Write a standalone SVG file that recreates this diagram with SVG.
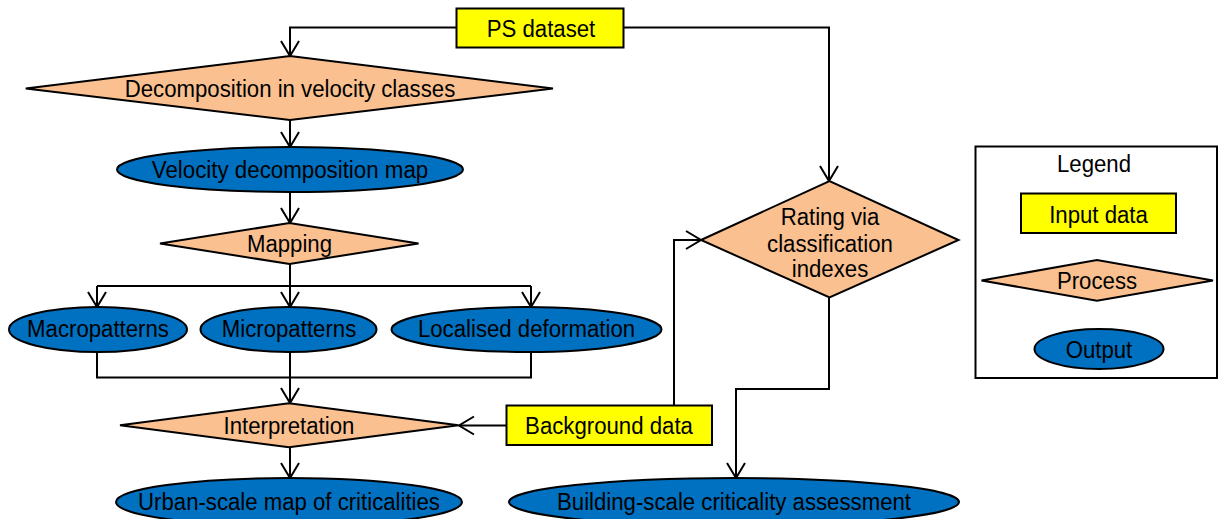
<svg xmlns="http://www.w3.org/2000/svg" width="1218" height="519" viewBox="0 0 1218 519">
<style>
text{font-family:"Liberation Sans",Arial,sans-serif;font-size:23.5px;fill:#000;text-anchor:middle}
.inp{fill:#FFFF00;stroke:#000;stroke-width:2}
.proc{fill:#FAC090;stroke:#000;stroke-width:2}
.out{fill:#0070C0;stroke:#000;stroke-width:2}
.con{fill:none;stroke:#000;stroke-width:2}
.arr{marker-end:url(#arr)}
</style>
<defs>
<marker id="arr" viewBox="-18 -11 20 22" refX="0" refY="0" markerWidth="20" markerHeight="22" markerUnits="userSpaceOnUse" orient="auto">
<path d="M-15,-9 L0,0 L-15,9" fill="none" stroke="#000" stroke-width="2"/>
</marker>
</defs>
<rect width="1218" height="519" fill="#fff"/>
<g id="connectors">
<polyline class="con arr" points="456.5,27.5 290,27.5 290,56"/>
<polyline class="con arr" points="623.5,27.5 829,27.5 829,181"/>
<polyline class="con arr" points="290,120 290,147"/>
<polyline class="con arr" points="290,192 290,223"/>
<polyline class="con" points="290,264 290,286"/>
<polyline class="con" points="97,286 531,286"/>
<polyline class="con arr" points="97,286 97,307"/>
<polyline class="con arr" points="290,286 290,307"/>
<polyline class="con arr" points="531,286 531,307"/>
<polyline class="con" points="97,352 97,377.5 531,377.5 531,352"/>
<polyline class="con arr" points="290,352 290,403"/>
<polyline class="con arr" points="290,447.5 290,478"/>
<polyline class="con arr" points="506.5,425.5 459,425.5"/>
<polyline class="con arr" points="674,405.5 674,240 701,240"/>
<polyline class="con arr" points="829,297.5 829,389 736,389 736,478"/>
</g>
<g id="ps-dataset">
<rect class="inp" x="456.5" y="8.5" width="167" height="39"/>
<text x="541" y="36.5" textLength="108.6" lengthAdjust="spacingAndGlyphs">PS dataset</text>
</g>
<g id="decomposition">
<polygon class="proc" points="25.7,88.5 290,56 553,88.5 290,120"/>
<text x="290" y="97" textLength="330.5" lengthAdjust="spacingAndGlyphs">Decomposition in velocity classes</text>
</g>
<g id="velocity-map">
<ellipse class="out" cx="290" cy="169.5" rx="173" ry="22.5"/>
<text x="290" y="178" textLength="276.4" lengthAdjust="spacingAndGlyphs">Velocity decomposition map</text>
</g>
<g id="mapping">
<polygon class="proc" points="160,243.5 289.5,223 418.5,243.5 289.5,264"/>
<text x="289.5" y="252" textLength="85.1" lengthAdjust="spacingAndGlyphs">Mapping</text>
</g>
<g id="macropatterns">
<ellipse class="out" cx="98" cy="329.5" rx="89" ry="22.5"/>
<text x="98" y="337" textLength="141.9" lengthAdjust="spacingAndGlyphs">Macropatterns</text>
</g>
<g id="micropatterns">
<ellipse class="out" cx="288.5" cy="329.5" rx="88" ry="22.5"/>
<text x="289" y="337" textLength="134.5" lengthAdjust="spacingAndGlyphs">Micropatterns</text>
</g>
<g id="localised">
<ellipse class="out" cx="526.5" cy="329.5" rx="135" ry="22.5"/>
<text x="526.5" y="337" textLength="217.2" lengthAdjust="spacingAndGlyphs">Localised deformation</text>
</g>
<g id="interpretation">
<polygon class="proc" points="120,425.3 289,403.3 458.5,425.3 289,447.3"/>
<text x="289" y="433.5" textLength="130.8" lengthAdjust="spacingAndGlyphs">Interpretation</text>
</g>
<g id="background">
<rect class="inp" x="506.5" y="405.5" width="205.5" height="39.5"/>
<text x="609" y="433.5" textLength="167.8" lengthAdjust="spacingAndGlyphs">Background data</text>
</g>
<g id="rating">
<polygon class="proc" points="701,240 829.5,181 958.5,240 829.5,297.5"/>
<text x="830" y="225" textLength="98.7" lengthAdjust="spacingAndGlyphs">Rating via</text>
<text x="830" y="251.5" textLength="125.8" lengthAdjust="spacingAndGlyphs">classification</text>
<text x="830" y="277" textLength="76.5" lengthAdjust="spacingAndGlyphs">indexes</text>
</g>
<g id="urban">
<ellipse class="out" cx="289" cy="502" rx="173" ry="24"/>
<text x="289" y="510" textLength="301.8" lengthAdjust="spacingAndGlyphs">Urban-scale map of criticalities</text>
</g>
<g id="building">
<ellipse class="out" cx="734" cy="502" rx="225" ry="24"/>
<text x="734" y="510" textLength="354" lengthAdjust="spacingAndGlyphs">Building-scale criticality assessment</text>
</g>
<g id="legend">
<rect x="975.5" y="146.5" width="241.5" height="231.5" fill="#fff" stroke="#000" stroke-width="2"/>
<text x="1094" y="171.5" textLength="74" lengthAdjust="spacingAndGlyphs">Legend</text>
<rect class="inp" x="1021" y="193.5" width="155" height="39.5"/>
<text x="1098.5" y="222.5" textLength="98.7" lengthAdjust="spacingAndGlyphs">Input data</text>
<polygon class="proc" points="981.5,280.5 1097,260 1213,280.5 1097,300.7"/>
<text x="1097" y="289" textLength="80.2" lengthAdjust="spacingAndGlyphs">Process</text>
<ellipse class="out" cx="1099" cy="349" rx="64.5" ry="20"/>
<text x="1099" y="357.5" textLength="66.6" lengthAdjust="spacingAndGlyphs">Output</text>
</g>
</svg>
